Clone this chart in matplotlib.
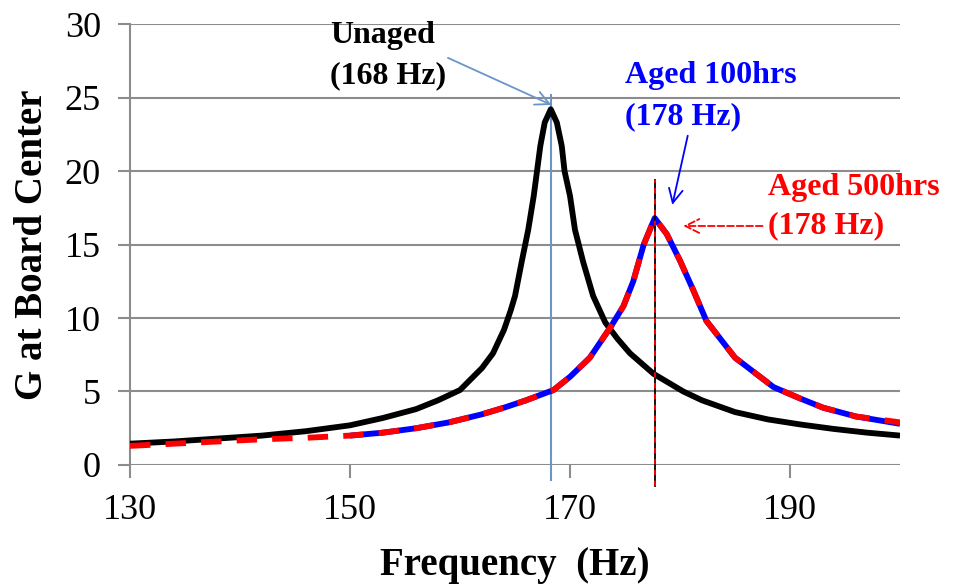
import matplotlib
matplotlib.use("Agg")
import matplotlib.pyplot as plt

# ---- data ----
unaged_f = [130, 134, 138, 142, 146, 150, 153, 156, 158, 160, 162, 163, 164, 164.6, 165,
            165.6, 166.2, 166.7, 167.0, 167.3, 167.7, 168.25, 168.8, 169.25, 169.5, 170.0,
            170.45, 171.2, 172.1, 173.2, 174.3, 175.45, 177.6, 180.3, 182, 185, 188, 191,
            194, 197, 200]
unaged_g = [1.45, 1.6, 1.8, 2.0, 2.3, 2.7, 3.2, 3.8, 4.4, 5.1, 6.6, 7.6, 9.2, 10.5, 11.5,
            13.8, 16.0, 18.3, 20.0, 21.7, 23.3, 24.2, 23.3, 21.7, 20.0, 18.3,
            16.0, 13.8, 11.5, 9.7, 8.6, 7.6, 6.2, 5.0, 4.4, 3.6, 3.1, 2.75,
            2.45, 2.2, 2.0]

aged100_f = [150, 153, 156, 159, 162, 164, 166, 168.5, 170, 171.8, 173.7, 174.85, 175.75,
             176.7, 177.7, 178.8, 180, 181.2, 182.4, 185, 188.5, 191, 193, 196, 200]
aged100_g = [2.0, 2.2, 2.5, 2.9, 3.45, 3.9, 4.4, 5.1, 6.0, 7.3, 9.4, 10.8, 12.5,
             15.0, 16.8, 15.7, 13.9, 11.9, 9.8, 7.3, 5.3, 4.5, 3.9, 3.3, 2.8]

aged500_f = [130, 134, 138, 142, 146] + aged100_f
aged500_g = [1.3, 1.45, 1.6, 1.75, 1.85] + aged100_g[:-1] + [2.9]

unaged_peak = 168.3
aged_peak = 177.7

x_ticks = [130, 150, 170, 190]
y_ticks = [0, 5, 10, 15, 20, 25, 30]

# ---- figure ----
plt.rcParams['font.family'] = ['Liberation Serif', 'DejaVu Serif']
fig = plt.figure(figsize=(9.58, 5.86), dpi=100)
ax = fig.add_axes([0.1357, 0.2065, 0.8038, 0.7525])

grid_c = '#8c8c8c'
ax.set_xlim(130, 200)
ax.set_ylim(0, 30)
ax.set_xticks(x_ticks)
ax.set_yticks(y_ticks)
ax.yaxis.grid(True, color=grid_c, lw=1.5)
ax.set_axisbelow(True)
for s in ['top', 'right', 'bottom']:
    ax.spines[s].set_visible(False)
ax.spines['left'].set_color(grid_c)
ax.spines['left'].set_linewidth(1.5)
ax.tick_params(axis='both', colors=grid_c, width=1.5, length=9, labelsize=26,
               labelcolor='black')
ax.tick_params(axis='x', pad=12)
ax.tick_params(axis='y', pad=12)

# marker lines
ax.plot([unaged_peak, unaged_peak], [-1.0, 25.2], color='#6b95c9', lw=1.5,
        clip_on=False, zorder=2)
ax.plot([aged_peak, aged_peak], [-1.4, 19.4], color='black', lw=1.3,
        clip_on=False, zorder=5)
ax.plot([aged_peak, aged_peak], [-1.4, 19.4], color='red', lw=1.3,
        dashes=(3, 3), clip_on=False, zorder=6)

# curves
ax.plot(unaged_f, unaged_g, color='black', lw=4.2, zorder=3,
        solid_joinstyle='round', solid_capstyle='butt')
ax.plot(aged100_f, aged100_g, color='#0000ff', lw=4.2, zorder=3,
        solid_joinstyle='round', solid_capstyle='butt')
ax.plot(aged500_f, aged500_g, color='#ff0000', lw=4.2, dashes=(3.5, 2.6), zorder=4,
        dash_joinstyle='round')

# annotations
ax.text(148.2, 29.25, 'Unaged', fontsize=23, fontweight='bold', color='black',
        ha='left', va='center')
ax.text(148.2, 26.5, '(168 Hz)', fontsize=23, fontweight='bold', color='black',
        ha='left', va='center')
ax.annotate('', xy=(unaged_peak, 24.5), xytext=(158.9, 27.7),
            arrowprops=dict(arrowstyle='->', color='#6b95c9', lw=1.3,
                            mutation_scale=25, shrinkA=0, shrinkB=0))

ax.text(175.0, 26.5, 'Aged 100hrs', fontsize=23, fontweight='bold', color='#0000ff',
        ha='left', va='center')
ax.text(175.0, 23.7, '(178 Hz)', fontsize=23, fontweight='bold', color='#0000ff',
        ha='left', va='center')
ax.annotate('', xy=(179.3, 17.7), xytext=(180.7, 22.4),
            arrowprops=dict(arrowstyle='->', color='#0000ff', lw=1.3,
                            mutation_scale=25, shrinkA=0, shrinkB=0))

ax.text(188.0, 18.9, 'Aged 500hrs', fontsize=23, fontweight='bold', color='#ff0000',
        ha='left', va='center', clip_on=False)
ax.text(188.0, 16.3, '(178 Hz)', fontsize=23, fontweight='bold', color='#ff0000',
        ha='left', va='center')
ax.annotate('', xy=(180.3, 16.26), xytext=(187.5, 16.26),
            arrowprops=dict(arrowstyle='->', color='#ff0000', lw=1.3, linestyle='--',
                            mutation_scale=25, shrinkA=0, shrinkB=0))

ax.set_xlabel('Frequency  (Hz)', fontsize=28, fontweight='bold', labelpad=14)
ax.set_ylabel('G at Board Center', fontsize=28, fontweight='bold', labelpad=10)

fig.savefig('out.png', dpi=100)
